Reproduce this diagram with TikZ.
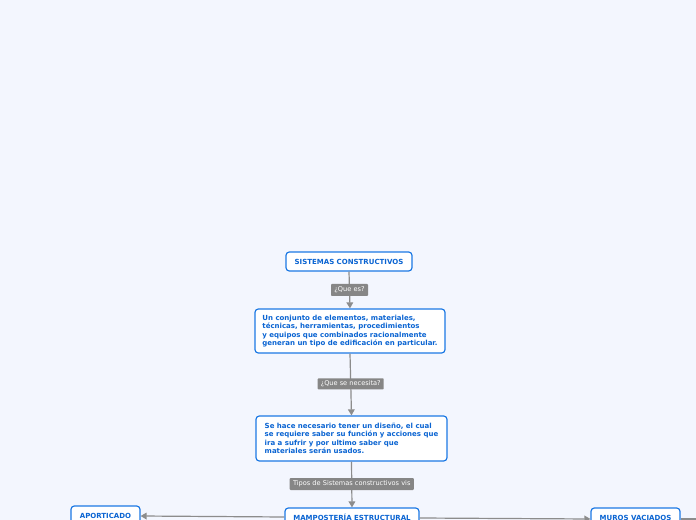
\documentclass[tikz,border=0pt]{standalone}
\usepackage{fontspec}
\setmainfont{DejaVu Sans}
\usetikzlibrary{arrows.meta}
\definecolor{bgc}{HTML}{F3F6FE}
\definecolor{bluec}{HTML}{1C79E4}
\definecolor{txtc}{HTML}{0A64D2}
\definecolor{linec}{HTML}{8C8C8C}
\definecolor{labc}{HTML}{868686}
\tikzset{
  topic/.style={draw=bluec, line width=0.9pt, fill=white, rounded corners=2.5pt,
    text=txtc, font=\bfseries\fontsize{5.25pt}{6.4pt}\selectfont, inner sep=0pt, align=center},
  textbox/.style={topic, align=left, inner xsep=5.5pt, inner ysep=0pt},
  lab/.style={fill=labc, text=white, font=\fontsize{4.95pt}{5.8pt}\selectfont, inner sep=0pt, rounded corners=0.6pt},
  conn/.style={draw=linec, line width=0.9pt, -{Triangle[length=4.5pt,width=5pt]}},
  plain/.style={draw=linec, line width=0.9pt}
}
\begin{document}
\begin{tikzpicture}[x=0.75pt,y=-0.75pt]
\useasboundingbox (0,0) rectangle (696,520);
\fill[bgc] (0,0) rectangle (696,520);
\clip (0,0) rectangle (696,520);

\node[topic, minimum width=94.5pt, minimum height=14.25pt] (sc) at (349,261.5) {SISTEMAS CONSTRUCTIVOS};
\node[textbox, minimum width=142.5pt, minimum height=33pt] (def) at (350,331)
 {Un conjunto de elementos, materiales,\\técnicas, herramientas, procedimientos\\y equipos que combinados racionalmente\\generan un tipo de edificación en particular.};
\node[textbox, minimum width=143.25pt, minimum height=33.75pt] (nec) at (351.5,438.5)
 {Se hace necesario tener un diseño, el cual\\se requiere saber su función y acciones que\\ira a sufrir y por ultimo saber que\\materiales serán usados.};
\node[topic, minimum width=100.5pt, minimum height=14.25pt] (mam) at (352,517.5) {MAMPOSTERÍA ESTRUCTURAL};
\node[topic, minimum width=51.75pt, minimum height=14.25pt] (apo) at (105.5,515.5) {APORTICADO};
\node[topic, minimum width=66.75pt, minimum height=14.25pt] (mur) at (635.5,517.5) {MUROS VACIADOS};
\coordinate (out) at (705,519);

\draw[conn] (sc.south) -- (def.north) node[lab, pos=0.5, minimum width=27.75pt, minimum height=9pt] (l1) {¿Que es?};
\draw[conn] (def.south) -- (nec.north) node[lab, pos=0.49, minimum width=49.5pt, minimum height=8.25pt] (l2) {¿Que se necesita?};
\draw[conn] (nec.south) -- (mam.north) node[lab, pos=0.49, minimum width=93pt, minimum height=9pt] (l3) {Tipos de Sistemas constructivos vis};
\draw[conn] (mam.west |- 0,517) -- (apo.east |- 0,516);
\draw[conn] (mam.east |- 0,518) -- (mur.west |- 0,519);
\draw[plain] (mur.east |- 0,519) -- (out);
\end{tikzpicture}
\end{document}
